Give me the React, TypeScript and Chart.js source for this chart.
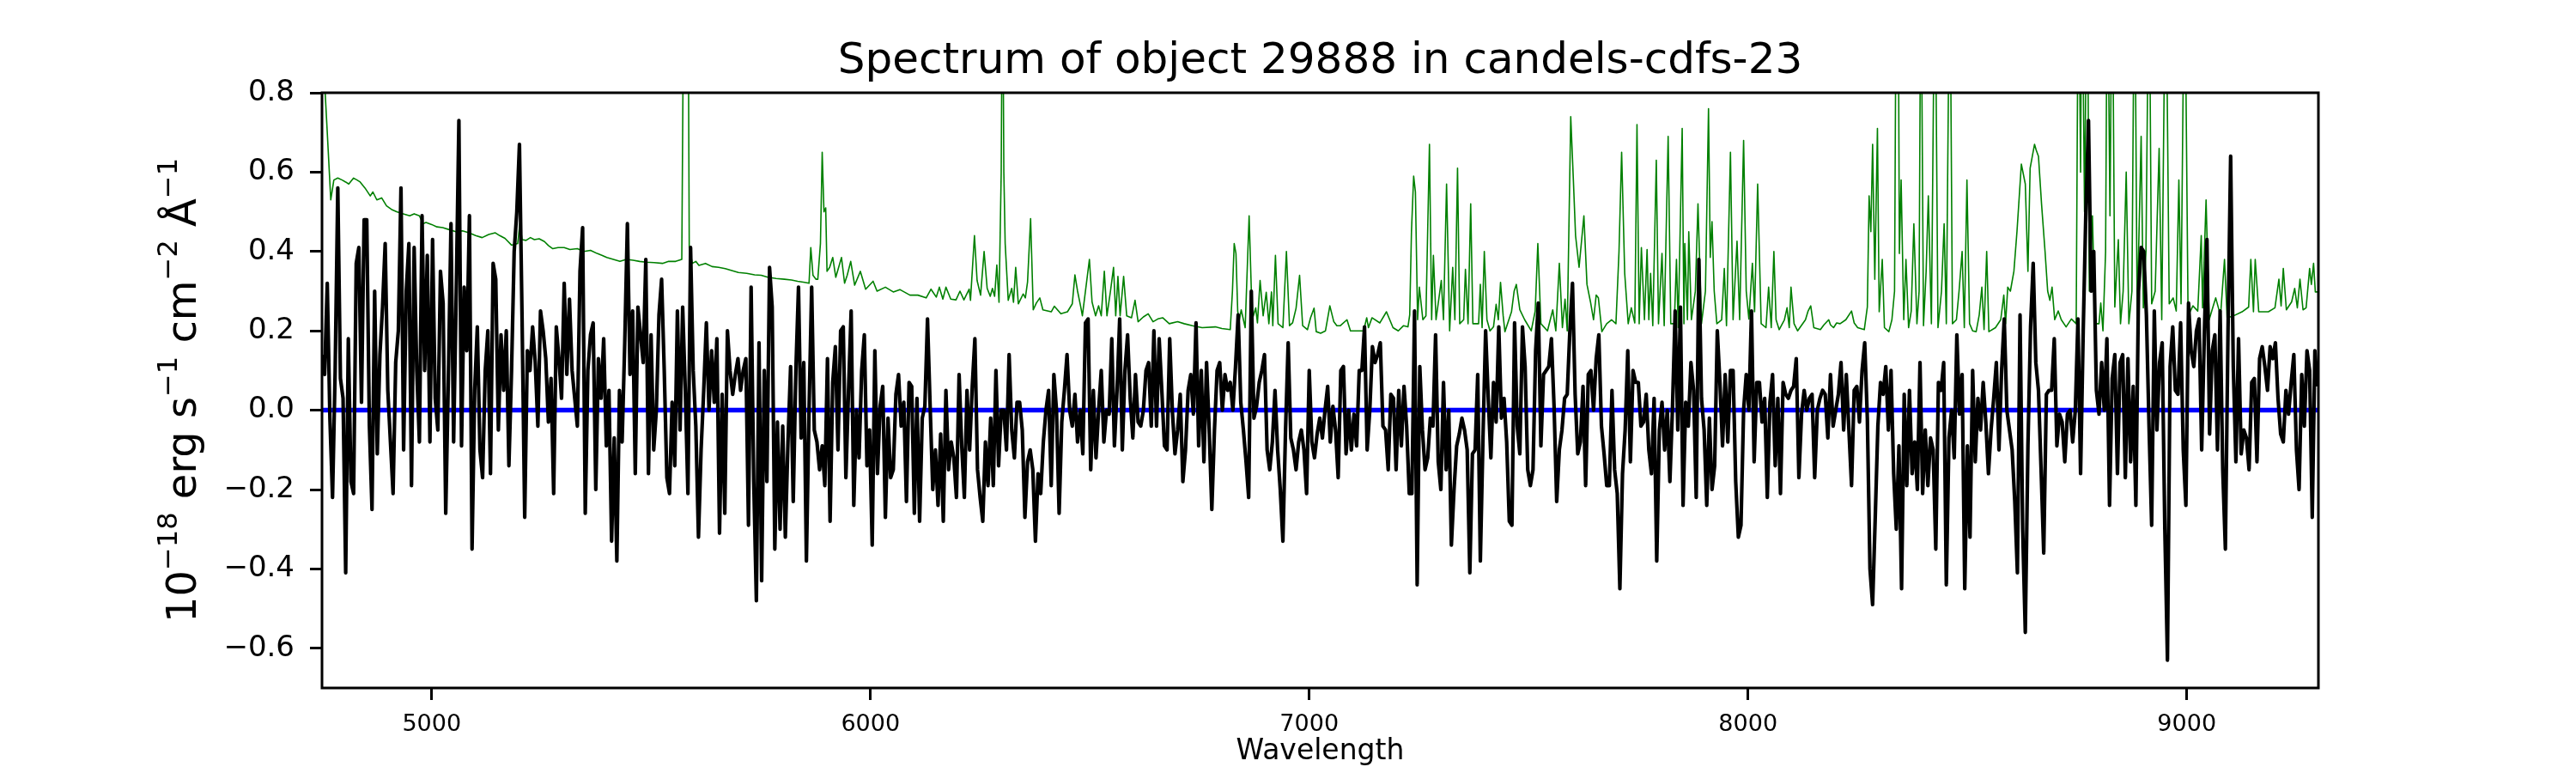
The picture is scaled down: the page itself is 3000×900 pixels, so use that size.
import { useEffect, useRef } from 'react';
import { Chart, ChartConfiguration, Plugin } from 'chart.js/auto';

// Spectrum sampled on a regular wavelength grid
const WAVE_START = 4750;
const WAVE_STEP = 6;

const FLUX = [
  0.14, 0.09, 0.32, -0.02, -0.22, 0.1, 0.56, 0.08, 0.03, -0.41, 0.18, -0.18, -0.21, 0.37, 0.41, 0.02, 0.48, 0.48, -0.04, -0.25,
  0.3, -0.11, 0.14, 0.26, 0.42, 0.05, -0.08, -0.21, 0.12, 0.2, 0.56, -0.1, 0.3, 0.42, -0.19, 0.41, 0.1, -0.08, 0.49, 0.1,
  0.39, -0.08, 0.43, 0.03, -0.05, 0.35, 0.27, -0.26, 0.08, 0.47, -0.08, 0.3, 0.73, -0.09, 0.31, 0.15, 0.49, -0.35, 0.05, 0.21,
  -0.1, -0.17, 0.1, 0.2, -0.16, 0.37, 0.33, -0.05, 0.19, 0.05, 0.2, -0.14, 0.1, 0.4, 0.5, 0.67, 0.23, -0.27, 0.15, 0.1,
  0.21, 0.12, -0.04, 0.25, 0.2, 0.13, -0.03, 0.08, -0.21, 0.21, 0.13, 0.03, 0.32, 0.09, 0.28, 0.1, 0.03, -0.04, 0.35, 0.46,
  -0.26, 0.1, 0.19, 0.22, -0.2, 0.13, 0.03, 0.18, -0.09, 0.05, -0.33, -0.07, -0.38, 0.05, -0.08, 0.17, 0.47, 0.09, 0.25, -0.16,
  0.26, 0.19, 0.12, 0.38, -0.16, 0.19, -0.1, 0.0, 0.24, 0.33, 0.1, -0.17, -0.21, 0.02, -0.14, 0.25, -0.05, 0.26, 0.05, -0.21,
  0.41, 0.1, -0.04, -0.32, -0.1, 0.05, 0.22, 0.0, 0.15, 0.02, 0.18, -0.31, 0.04, -0.26, 0.2, 0.1, 0.04, 0.09, 0.13, 0.05,
  0.1, 0.13, -0.29, 0.31, -0.18, -0.48, 0.17, -0.43, 0.1, -0.18, 0.36, 0.26, -0.35, -0.03, -0.3, -0.04, -0.32, -0.08, 0.11, -0.23,
  0.1, 0.31, -0.07, 0.12, -0.38, 0.0, 0.31, -0.05, -0.08, -0.15, -0.09, -0.19, 0.13, -0.28, 0.07,
  0.16, -0.1, 0.2, 0.21, -0.17, 0.05, 0.25, -0.24, 0.0, -0.12, 0.1, 0.19, -0.14, -0.05, -0.34, 0.15, -0.16, 0.01, 0.06, -0.27,
  -0.02, -0.17, -0.15, 0.04, 0.09, -0.04, 0.02, -0.23, 0.07, 0.06, -0.26, 0.03, -0.28, -0.02, 0.01, 0.23, 0.01, -0.2, -0.1, -0.24,
  -0.06, -0.28, 0.05, -0.15, -0.08, -0.12, -0.22, 0.09, -0.09, -0.22, 0.05, -0.1, 0.06, 0.18, -0.15, -0.22, -0.28, -0.08, -0.19, -0.02,
  -0.19, 0.1, -0.14, 0.0, 0.0, -0.1, 0.14, -0.05, -0.12, 0.02, 0.02, -0.05, -0.27, -0.13, -0.1, -0.15, -0.33, -0.16, -0.21, -0.08,
  0.0, 0.05, -0.19, 0.09, 0.0, -0.26, -0.03, 0.05, 0.14, 0.0, -0.04, 0.04, -0.08, 0.0, -0.11, 0.22, 0.23, -0.15, 0.05, -0.12,
  0.0, 0.1, -0.08, 0.0, -0.01, 0.18, -0.09, 0.05, 0.23, -0.1, 0.1, 0.19, 0.03, -0.07, 0.09, -0.03, -0.04, 0.0, 0.1, 0.12,
  -0.04, 0.2, -0.04, 0.18, 0.05, -0.09, -0.1, 0.18, 0.0, -0.11, -0.05, 0.04, -0.18, -0.1, 0.05, 0.09, -0.01, 0.22, -0.09, 0.1,
  -0.13, 0.12, -0.05, -0.25, -0.05, 0.1, 0.12, 0.0, 0.09, 0.05, 0.07, 0.0, 0.11, 0.24, 0.02, -0.05, -0.13, -0.22, 0.3, -0.02,
  0.01, 0.07, 0.1, 0.14, -0.1, -0.15, -0.08, 0.05, -0.1, -0.2, -0.33, -0.05, 0.17, -0.07, -0.1, -0.15, -0.08, -0.05, -0.1, -0.21,
  0.1, -0.08, -0.12, -0.06, -0.02, -0.07, 0.0, 0.06, -0.08, 0.01, -0.05, -0.17,
  0.1, 0.11, -0.11, 0.0, -0.1, -0.01, -0.09, 0.1, 0.1, 0.21, -0.1, 0.0, 0.16, 0.12, 0.14, 0.17, -0.04, -0.05, -0.15, 0.04,
  0.03, -0.15, 0.05, -0.09, 0.06, -0.04, -0.21, -0.21, 0.25, -0.44, 0.11, -0.05, -0.15, -0.12, -0.02, -0.04, 0.19, -0.13, -0.2, 0.07,
  -0.15, 0.0, -0.34, -0.2, -0.09, -0.06, -0.02, -0.05, -0.1, -0.41, -0.11, -0.1, 0.09, -0.38, -0.07, 0.2, 0.03, -0.12, 0.07, -0.03,
  0.21, -0.02, 0.03, -0.08, -0.28, -0.29, 0.22, -0.04, -0.11, 0.21, 0.11, -0.15, -0.19, -0.15, 0.15, 0.27, -0.09, 0.09, 0.1, 0.11,
  0.18, 0.01, -0.23, -0.1, -0.05, 0.03, 0.04, 0.2, 0.32, 0.04, -0.11, -0.08, 0.06, -0.19, 0.09, 0.1, 0.0, 0.13, 0.19, -0.04,
  -0.11, -0.19, -0.19, 0.05, -0.15, -0.21, -0.45, -0.16, -0.05, 0.15, -0.13, 0.1, 0.07, 0.07, -0.04, -0.03, 0.04, -0.1, -0.16, 0.03,
  -0.38, -0.05, 0.02, -0.1, 0.0, -0.18, 0.01, 0.25, -0.05, 0.26, -0.24, 0.02, -0.04, 0.12, 0.05, -0.22, 0.38, 0.03, -0.05, -0.24,
  -0.02, -0.2, -0.14, 0.2, 0.07, -0.09, 0.09, -0.08, 0.1, 0.1, -0.18, -0.32, -0.29, 0.0, 0.09, 0.0, 0.25, -0.13, 0.07, 0.07,
  -0.03, 0.03, -0.22, 0.02, 0.09, -0.14, 0.03, -0.21, 0.07, 0.04, 0.03, 0.05, 0.06, 0.13, -0.17, -0.01, 0.05, 0.0, 0.03, 0.04,
  -0.17, 0.0, 0.03, 0.05, 0.04, -0.07, 0.09, -0.04, 0.0, 0.04, 0.12, -0.05, 0.09,
  -0.05, -0.19, 0.05, 0.06, -0.03, 0.1, 0.17, -0.02, -0.4, -0.49, -0.27, -0.04, 0.07, 0.04, 0.11, -0.05, 0.1, -0.16, -0.3, -0.09,
  -0.45, 0.04, -0.19, 0.05, -0.16, -0.08, -0.2, 0.12, -0.21, -0.05, -0.19, -0.07, -0.1, -0.35, 0.07, 0.05, 0.12, -0.44, -0.07, 0.0,
  -0.12, 0.19, -0.01, 0.09, -0.45, -0.09, -0.32, 0.1, -0.13, 0.03, -0.05, 0.07, -0.03, -0.16, -0.05, 0.03, 0.12, -0.1, 0.1, 0.23,
  0.0, -0.05, -0.1, -0.23, -0.41, 0.24, -0.3, -0.56, -0.09, 0.21, 0.37, 0.12, 0.05, -0.15, -0.36, 0.04, 0.05, 0.05, 0.18, -0.09,
  -0.01, -0.03, -0.13, -0.01, 0.0, -0.08, 0.0, 0.23, -0.16, 0.2, 0.5, 0.73, 0.3, 0.4, 0.05, -0.01, 0.12, 0.0, 0.18, -0.24,
  0.08, 0.14, -0.16, 0.12, 0.14, -0.17, 0.13, -0.13, 0.06, -0.24, 0.3, 0.41, 0.4, 0.24, -0.04, -0.29, 0.25, -0.05, 0.12, 0.17,
  -0.3, -0.63, 0.11, 0.21, 0.05, 0.04, 0.22, -0.1, -0.24, 0.27, 0.15, 0.11, 0.2, 0.23, -0.1, 0.19, 0.43, -0.06, 0.15, 0.19,
  -0.1, 0.25, -0.15, -0.35, 0.2, 0.64, 0.11, -0.13, 0.18, -0.11, -0.05, -0.07, -0.15, 0.07, 0.08, -0.13, 0.13, 0.16, 0.11, 0.05,
  0.16, 0.13, 0.17, 0.03, -0.06, -0.08, 0.05, -0.01, 0.07, 0.14, -0.1, -0.2, 0.09, -0.04, 0.15, 0.1, -0.27, 0.15, 0.06,
];

// Noise spectrum: [wavelength, value]
const NOISE: [number, number][] = [
  [4750, 0.95], [4762, 0.7], [4770, 0.53], [4777, 0.58], [4786, 0.585], [4796, 0.58], [4804, 0.575], [4811, 0.57],
  [4822, 0.585], [4830, 0.58], [4837, 0.575], [4848, 0.56], [4860, 0.54], [4866, 0.55], [4875, 0.53], [4886, 0.535],
  [4897, 0.515], [4910, 0.505], [4920, 0.5], [4935, 0.495], [4950, 0.49], [4960, 0.495], [4972, 0.49], [4980, 0.47],
  [4987, 0.473], [5000, 0.468], [5012, 0.462], [5025, 0.46], [5040, 0.455], [5055, 0.45], [5070, 0.452], [5085, 0.447],
  [5100, 0.44], [5115, 0.435], [5130, 0.443], [5145, 0.447], [5155, 0.44], [5167, 0.433], [5182, 0.416], [5196, 0.42],
  [5201, 0.47], [5206, 0.43], [5215, 0.428], [5225, 0.435], [5234, 0.43], [5245, 0.432], [5257, 0.425], [5266, 0.415],
  [5276, 0.407], [5288, 0.41], [5302, 0.41], [5315, 0.405], [5332, 0.407], [5347, 0.4], [5362, 0.403], [5377, 0.395],
  [5389, 0.39], [5399, 0.385], [5414, 0.38], [5429, 0.375], [5444, 0.38], [5459, 0.378], [5474, 0.375], [5489, 0.373],
  [5507, 0.372], [5526, 0.37], [5540, 0.375], [5556, 0.375], [5570, 0.38], [5575, 1.2], [5584, 1.2], [5587, 0.41],
  [5594, 0.37], [5602, 0.375], [5609, 0.365], [5624, 0.37], [5639, 0.362], [5654, 0.36], [5669, 0.357], [5684, 0.352],
  [5699, 0.347], [5718, 0.345], [5736, 0.341], [5751, 0.34], [5766, 0.335], [5785, 0.332], [5804, 0.33], [5820, 0.328],
  [5834, 0.325], [5850, 0.322], [5860, 0.32], [5864, 0.41], [5869, 0.34], [5876, 0.33], [5880, 0.33], [5886, 0.42],
  [5890, 0.65], [5894, 0.5], [5898, 0.51], [5901, 0.35], [5907, 0.36], [5914, 0.385], [5921, 0.335], [5934, 0.385],
  [5941, 0.32], [5947, 0.34], [5955, 0.375], [5964, 0.315], [5977, 0.35], [5989, 0.305], [6006, 0.325], [6015, 0.3],
  [6034, 0.31], [6052, 0.298], [6067, 0.304], [6090, 0.29], [6108, 0.29], [6127, 0.283], [6138, 0.305], [6150, 0.285],
  [6157, 0.31], [6165, 0.28], [6172, 0.31], [6183, 0.28], [6195, 0.278], [6204, 0.3], [6213, 0.278], [6225, 0.305],
  [6228, 0.277], [6237, 0.44], [6243, 0.327], [6251, 0.29], [6259, 0.4], [6266, 0.307], [6273, 0.287], [6278, 0.307],
  [6283, 0.287], [6288, 0.366], [6293, 0.272], [6298, 0.6], [6301, 1.2], [6304, 0.6], [6307, 0.42], [6314, 0.277],
  [6322, 0.307], [6326, 0.272], [6331, 0.36], [6337, 0.268], [6348, 0.293], [6353, 0.283], [6358, 0.323], [6365, 0.483],
  [6371, 0.253], [6378, 0.27], [6386, 0.283], [6393, 0.253], [6412, 0.248], [6419, 0.262], [6434, 0.243], [6449, 0.248],
  [6460, 0.268], [6466, 0.341], [6472, 0.3], [6479, 0.262], [6483, 0.238], [6499, 0.38], [6505, 0.273], [6513, 0.238],
  [6520, 0.263], [6526, 0.238], [6533, 0.35], [6539, 0.238], [6547, 0.3], [6554, 0.36], [6559, 0.238], [6564, 0.337],
  [6569, 0.238], [6577, 0.337], [6584, 0.238], [6595, 0.233], [6603, 0.277], [6610, 0.223], [6622, 0.235], [6633, 0.243],
  [6644, 0.223], [6655, 0.23], [6666, 0.233], [6681, 0.218], [6700, 0.223], [6715, 0.218], [6734, 0.213], [6756, 0.208],
  [6786, 0.21], [6801, 0.206], [6820, 0.203], [6825, 0.3], [6829, 0.42], [6833, 0.395], [6837, 0.25], [6840, 0.223],
  [6845, 0.253], [6854, 0.208], [6863, 0.49], [6870, 0.228], [6878, 0.258], [6882, 0.22], [6888, 0.327], [6895, 0.238],
  [6902, 0.297], [6908, 0.218], [6914, 0.298], [6917, 0.213], [6923, 0.39], [6929, 0.218], [6940, 0.208], [6948, 0.4],
  [6955, 0.213], [6962, 0.22], [6970, 0.257], [6978, 0.34], [6985, 0.213], [6996, 0.203], [7003, 0.233], [7011, 0.257],
  [7016, 0.198], [7026, 0.194], [7037, 0.2], [7047, 0.263], [7056, 0.223], [7063, 0.213], [7071, 0.213], [7086, 0.228],
  [7094, 0.2], [7109, 0.2], [7124, 0.2], [7131, 0.233], [7135, 0.208], [7143, 0.233], [7161, 0.22], [7176, 0.248],
  [7191, 0.208], [7203, 0.2], [7215, 0.213], [7225, 0.21], [7229, 0.24], [7233, 0.45], [7238, 0.59], [7242, 0.55],
  [7247, 0.228], [7251, 0.31], [7259, 0.228], [7266, 0.238], [7274, 0.67], [7279, 0.228], [7283, 0.39], [7289, 0.228],
  [7301, 0.327], [7306, 0.228], [7313, 0.57], [7320, 0.2], [7327, 0.36], [7332, 0.228], [7338, 0.61], [7343, 0.218],
  [7352, 0.228], [7356, 0.355], [7362, 0.218], [7368, 0.52], [7373, 0.218], [7386, 0.218], [7390, 0.317], [7394, 0.208],
  [7399, 0.4], [7405, 0.228], [7412, 0.2], [7420, 0.21], [7426, 0.267], [7431, 0.228], [7436, 0.322], [7442, 0.238],
  [7446, 0.198], [7461, 0.248], [7467, 0.3], [7472, 0.317], [7480, 0.253], [7491, 0.228], [7506, 0.2], [7515, 0.25],
  [7521, 0.42], [7528, 0.218], [7543, 0.2], [7555, 0.253], [7562, 0.2], [7570, 0.37], [7577, 0.208], [7583, 0.28],
  [7588, 0.2], [7596, 0.74], [7602, 0.58], [7607, 0.44], [7615, 0.36], [7626, 0.49], [7633, 0.317], [7641, 0.273],
  [7648, 0.228], [7654, 0.29], [7659, 0.283], [7667, 0.198], [7678, 0.218], [7689, 0.228], [7699, 0.218], [7706, 0.4],
  [7712, 0.65], [7719, 0.345], [7727, 0.218], [7734, 0.258], [7742, 0.22], [7747, 0.72], [7752, 0.218], [7757, 0.41],
  [7764, 0.228], [7770, 0.405], [7774, 0.228], [7778, 0.345], [7783, 0.213], [7791, 0.63], [7796, 0.218], [7804, 0.395],
  [7809, 0.213], [7818, 0.69], [7824, 0.218], [7832, 0.218], [7837, 0.38], [7841, 0.208], [7850, 0.71], [7854, 0.218],
  [7856, 0.42], [7862, 0.228], [7865, 0.45], [7871, 0.228], [7880, 0.3], [7886, 0.52], [7894, 0.218], [7903, 0.3],
  [7910, 0.76], [7914, 0.385], [7918, 0.475], [7923, 0.3], [7929, 0.218], [7940, 0.228], [7946, 0.357], [7951, 0.213],
  [7960, 0.65], [7966, 0.228], [7975, 0.426], [7981, 0.228], [7990, 0.68], [7996, 0.3], [8002, 0.23], [8010, 0.37],
  [8015, 0.248], [8022, 0.57], [8030, 0.218], [8041, 0.208], [8047, 0.31], [8053, 0.208], [8059, 0.4], [8064, 0.228],
  [8071, 0.203], [8083, 0.228], [8089, 0.258], [8094, 0.208], [8098, 0.31], [8105, 0.218], [8113, 0.2], [8131, 0.228],
  [8137, 0.25], [8143, 0.263], [8150, 0.208], [8165, 0.203], [8173, 0.215], [8184, 0.228], [8188, 0.215], [8195, 0.208],
  [8202, 0.22], [8210, 0.218], [8223, 0.228], [8236, 0.25], [8242, 0.22], [8250, 0.208], [8265, 0.203], [8272, 0.26],
  [8276, 0.54], [8280, 0.45], [8284, 0.67], [8289, 0.33], [8295, 0.71], [8299, 0.248], [8306, 0.38], [8311, 0.208],
  [8321, 0.198], [8328, 0.228], [8334, 0.3], [8338, 1.2], [8342, 1.2], [8345, 0.395], [8349, 0.58], [8355, 0.228],
  [8360, 0.38], [8366, 0.208], [8372, 0.25], [8378, 0.47], [8385, 0.218], [8390, 0.3], [8394, 1.2], [8400, 0.213],
  [8406, 0.35], [8411, 0.54], [8418, 0.218], [8426, 1.2], [8433, 0.208], [8441, 0.3], [8447, 0.47], [8452, 0.218],
  [8460, 1.2], [8466, 0.218], [8475, 0.228], [8481, 0.3], [8488, 0.4], [8493, 0.208], [8499, 0.58], [8505, 0.218],
  [8512, 0.2], [8520, 0.198], [8527, 0.24], [8533, 0.31], [8538, 0.203], [8544, 0.4], [8549, 0.198], [8564, 0.208],
  [8576, 0.228], [8583, 0.29], [8587, 0.218], [8592, 0.31], [8598, 0.3], [8606, 0.35], [8613, 0.45], [8623, 0.62],
  [8632, 0.57], [8638, 0.35], [8643, 0.61], [8648, 0.64], [8653, 0.67], [8657, 0.655], [8662, 0.64], [8669, 0.52],
  [8677, 0.4], [8683, 0.3], [8688, 0.277], [8693, 0.31], [8699, 0.228], [8707, 0.25], [8714, 0.228], [8725, 0.21],
  [8737, 0.23], [8748, 0.218], [8753, 1.2], [8758, 0.6], [8761, 1.2], [8767, 0.5], [8773, 1.2], [8778, 0.3],
  [8785, 0.49], [8791, 0.218], [8800, 0.218], [8804, 0.27], [8809, 0.2], [8815, 0.4], [8819, 1.2], [8825, 0.49],
  [8830, 1.2], [8836, 0.26], [8844, 0.43], [8849, 0.218], [8855, 0.3], [8862, 0.6], [8868, 0.218], [8875, 0.3],
  [8881, 1.2], [8887, 0.238], [8896, 0.69], [8901, 0.258], [8907, 0.4], [8914, 1.2], [8920, 0.268], [8928, 0.3],
  [8937, 0.66], [8943, 0.228], [8952, 1.2], [8960, 0.268], [8969, 0.283], [8976, 0.25], [8982, 0.58], [8987, 0.268],
  [8995, 1.2], [9003, 0.238], [9014, 0.263], [9025, 0.25], [9033, 0.44], [9036, 0.258], [9044, 0.53], [9051, 0.228],
  [9059, 0.258], [9066, 0.283], [9077, 0.238], [9086, 0.38], [9092, 0.233], [9107, 0.238], [9126, 0.248], [9141, 0.26],
  [9146, 0.38], [9152, 0.248], [9156, 0.38], [9164, 0.248], [9186, 0.248], [9201, 0.258], [9210, 0.33], [9215, 0.263],
  [9220, 0.357], [9227, 0.253], [9239, 0.273], [9246, 0.307], [9252, 0.258], [9258, 0.33], [9265, 0.253], [9272, 0.258],
  [9280, 0.357], [9284, 0.317], [9289, 0.37], [9293, 0.298], [9298, 0.298],
];

// Zero-level model
const MODEL: [number, number][] = [[4750, 0], [9300, 0]];

const X_RANGE = [4750, 9300];
const Y_RANGE = [-0.7, 0.8];
const X_TICKS = [5000, 6000, 7000, 8000, 9000];
const Y_TICKS = [-0.6, -0.4, -0.2, 0.0, 0.2, 0.4, 0.6, 0.8];

const TITLE = 'Spectrum of object 29888 in candels-cdfs-23';
const X_LABEL = 'Wavelength';
// [text, isSuperscript]
const Y_LABEL: [string, boolean][] = [
  ['10', false], ['\u221218', true], [' erg s', false], ['\u22121', true],
  [' cm', false], ['\u22122', true], [' \u00c5', false], ['\u22121', true],
];

const FONT = '"DejaVu Sans", sans-serif';

// axes frame plus title and axis labels, placed like matplotlib does
const mplDecor: Plugin = {
  id: 'mplDecor',
  afterDraw(chart) {
    const { ctx, chartArea: a } = chart;
    const cx = (a.left + a.right) / 2;
    ctx.save();
    ctx.strokeStyle = '#000';
    ctx.lineWidth = 3;
    ctx.strokeRect(a.left, a.top, a.right - a.left, a.bottom - a.top);

    ctx.fillStyle = '#000';
    ctx.textAlign = 'center';
    ctx.textBaseline = 'alphabetic';
    ctx.font = `50px ${FONT}`;
    ctx.fillText(TITLE, cx, a.top - 23);
    ctx.font = `33px ${FONT}`;
    ctx.fillText(X_LABEL, cx, a.bottom + 83);

    // rotated y label with superscripts
    const baseFont = `48px ${FONT}`;
    const supFont = `32px ${FONT}`;
    let total = 0;
    const widths = Y_LABEL.map(([t, sup]) => {
      ctx.font = sup ? supFont : baseFont;
      const w = ctx.measureText(t).width;
      total += w;
      return w;
    });
    ctx.translate(a.left - 147, (a.top + a.bottom) / 2);
    ctx.rotate(-Math.PI / 2);
    ctx.textAlign = 'left';
    let x = -total / 2;
    Y_LABEL.forEach(([t, sup], i) => {
      ctx.font = sup ? supFont : baseFont;
      ctx.fillText(t, x, sup ? -22 : 0);
      x += widths[i];
    });
    ctx.restore();
  },
};

export default function App() {
  const canvasRef = useRef<HTMLCanvasElement>(null);
  const chartRef = useRef<Chart | null>(null);

  useEffect(() => {
    document.body.style.margin = '0';
    if (!canvasRef.current) return;
    if (chartRef.current) chartRef.current.destroy();
    const ctx = canvasRef.current.getContext('2d');
    if (!ctx) return;

    const config: ChartConfiguration<'line'> = {
      type: 'line',
      data: {
        datasets: [
          {
            label: 'flux',
            data: FLUX.map((v, i) => ({ x: WAVE_START + i * WAVE_STEP, y: v })),
            borderColor: '#000000',
            borderWidth: 4.2,
            borderJoinStyle: 'round',
            pointRadius: 0,
            tension: 0,
            clip: 0,
          },
          {
            label: 'model',
            data: MODEL.map(([x, y]) => ({ x, y })),
            borderColor: '#0000ff',
            borderWidth: 5.5,
            pointRadius: 0,
            clip: 0,
          },
          {
            label: 'noise',
            data: NOISE.map(([x, y]) => ({ x, y })),
            borderColor: '#008000',
            borderWidth: 1.6,
            borderJoinStyle: 'round',
            pointRadius: 0,
            tension: 0,
            clip: 0,
          },
        ],
      },
      options: {
        animation: false,
        responsive: false,
        devicePixelRatio: 1,
        layout: { padding: { top: 108, right: 300, bottom: 0, left: 0 } },
        plugins: {
          legend: { display: false },
          title: { display: false },
          tooltip: { enabled: false },
        },
        scales: {
          x: {
            type: 'linear',
            min: X_RANGE[0],
            max: X_RANGE[1],
            afterBuildTicks: (scale) => {
              scale.ticks = X_TICKS.map((value) => ({ value }));
            },
            afterFit: (scale) => {
              scale.height = 99;
            },
            ticks: {
              color: '#000',
              font: { family: FONT, size: 27 },
              padding: 13,
              maxRotation: 0,
              callback: (value) => String(value),
            },
            grid: {
              display: true,
              drawOnChartArea: false,
              drawTicks: true,
              tickLength: 14,
              tickWidth: 3,
              tickColor: '#000',
            },
            border: { display: false },
          },
          y: {
            type: 'linear',
            min: Y_RANGE[0],
            max: Y_RANGE[1],
            afterBuildTicks: (scale) => {
              scale.ticks = Y_TICKS.map((value) => ({ value }));
            },
            afterFit: (scale) => {
              scale.width = 375;
            },
            ticks: {
              color: '#000',
              font: { family: FONT, size: 34 },
              padding: 18,
              callback: (value) => Number(value).toFixed(1).replace('-', '\u2212'),
            },
            grid: {
              display: true,
              drawOnChartArea: false,
              drawTicks: true,
              tickLength: 14,
              tickWidth: 3,
              tickColor: '#000',
            },
            border: { display: false },
          },
        },
      },
      plugins: [mplDecor],
    };

    chartRef.current = new Chart(ctx, config);

    return () => {
      if (chartRef.current) {
        chartRef.current.destroy();
        chartRef.current = null;
      }
    };
  }, []);

  return (
    <div style={{ position: 'relative', width: '3000px', height: '900px' }}>
      <canvas ref={canvasRef} width={3000} height={900} style={{ display: 'block' }}></canvas>
    </div>
  );
}
